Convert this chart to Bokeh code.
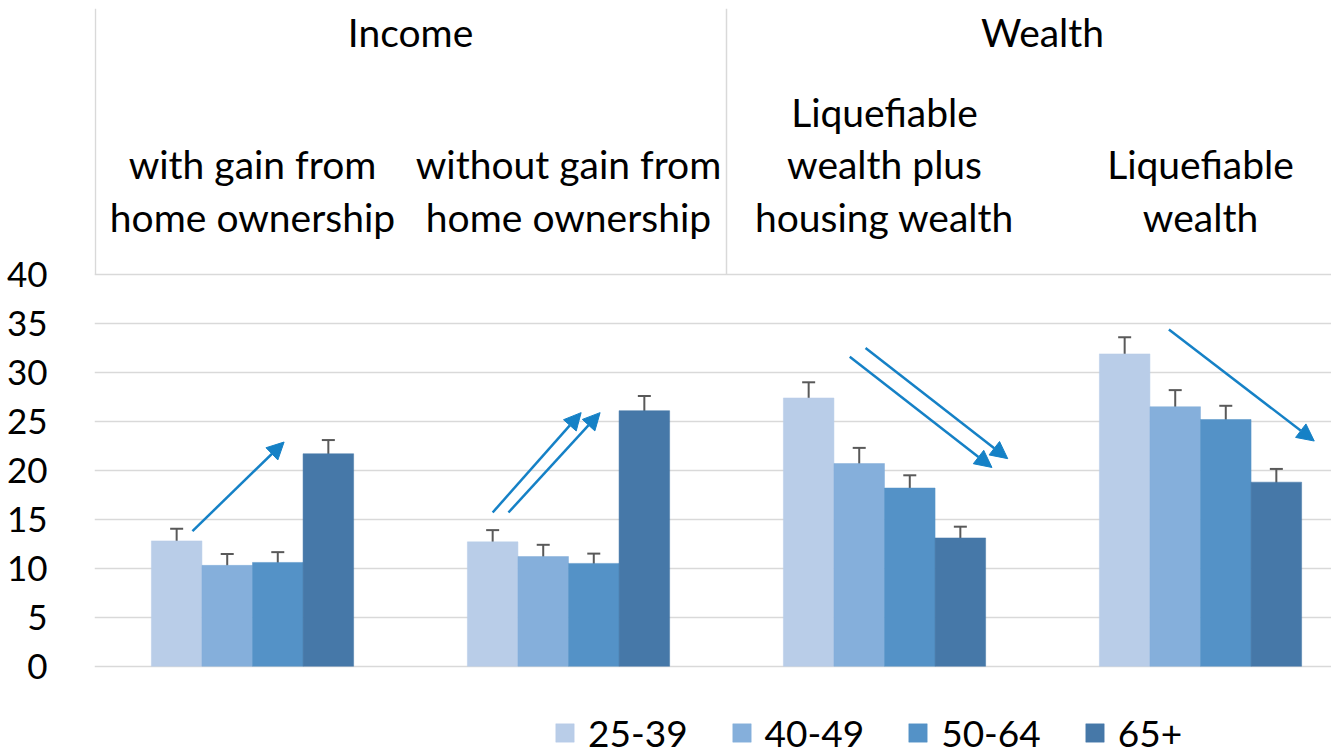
from bokeh.plotting import figure
from bokeh.models import (Range1d, FixedTicker, ColumnDataSource, Whisker, TeeHead,
                          Arrow, NormalHead)
from bokeh.core.properties import value
from bokeh.embed import file_html
from bokeh.resources import INLINE

# ---------------- data ----------------
group_names = ["Income", "Wealth"]
group_spans = [(0, 2), (2, 4)]          # category index ranges covered by each group
categories = [
    ["with gain from", "home ownership"],
    ["without gain from", "home ownership"],
    ["Liquefiable", "wealth plus", "housing wealth"],
    ["Liquefiable", "wealth"],
]
age_groups = ["25-39", "40-49", "50-64", "65+"]
colors = ["#B9CDE8", "#85AFDB", "#5492C7", "#4678A8"]

v_25_39 = [12.8, 12.7, 27.4, 31.9]
v_40_49 = [10.3, 11.2, 20.7, 26.5]
v_50_64 = [10.6, 10.5, 18.2, 25.2]
v_65p = [21.7, 26.1, 13.1, 18.8]

e_25_39 = [1.25, 1.2, 1.6, 1.7]
e_40_49 = [1.15, 1.2, 1.6, 1.7]
e_50_64 = [1.05, 1.0, 1.3, 1.4]
e_65p = [1.4, 1.5, 1.15, 1.35]

y_ticks = [0, 5, 10, 15, 20, 25, 30, 35, 40]

# trend arrows (category units, value units)
arrow_x0 = [0.31, 1.26, 1.31, 2.39, 2.44, 3.40]
arrow_y0 = [13.8, 15.7, 15.7, 31.6, 32.5, 34.4]
arrow_x1 = [0.60, 1.54, 1.60, 2.84, 2.89, 3.86]
arrow_y1 = [22.9, 25.9, 25.9, 20.3, 21.2, 23.0]

series_vals = [v_25_39, v_40_49, v_50_64, v_65p]
series_errs = [e_25_39, e_40_49, e_50_64, e_65p]

# ---------------- layout ----------------
FONT = "Lato"
FIG_W, FIG_H = 1331, 756
FRAME_LEFT = 94
ZERO_Y = 665.7      # px from top of figure where value 0 sits
PX = 9.79           # px per value unit
CAT_W = 316.0       # px per category
BAR_W = 0.16
TEXT_SHIFT = 15     # compensation for alphabetic-baseline placement

x_range = Range1d(0, (FIG_W - FRAME_LEFT) / CAT_W)
y_top = ZERO_Y / PX
y_range = Range1d(-(FIG_H - ZERO_Y) / PX, y_top)

p = figure(width=FIG_W, height=FIG_H, x_range=x_range, y_range=y_range,
           output_backend="svg", toolbar_location=None, x_axis_location=None,
           min_border_left=FRAME_LEFT, min_border_right=0, min_border_top=0,
           min_border_bottom=0)
p.outline_line_color = None
p.background_fill_color = "white"
p.border_fill_color = "white"

ticker = FixedTicker(ticks=y_ticks)
p.yaxis.ticker = ticker
p.ygrid.ticker = ticker
p.xgrid.visible = False
p.ygrid.grid_line_color = "#D9D9D9"
p.ygrid.grid_line_width = 1.5
p.yaxis.axis_line_color = None
p.yaxis.major_tick_line_color = None
p.yaxis.minor_tick_line_color = None
p.yaxis.major_label_text_font = FONT
p.yaxis.major_label_text_font_size = "35px"
p.yaxis.major_label_text_color = "black"
p.yaxis.major_label_standoff = 41

# header dividers
p.segment(x0=[0.003, 2], y0=[40, 40], x1=[0.003, 2], y1=[(ZERO_Y - 8.3) / PX] * 2,
          line_color="#D9D9D9", line_width=1.5)

# bars + error bars
for k, (name, vals, errs, col) in enumerate(zip(age_groups, series_vals, series_errs, colors)):
    xs = [i + 0.5 + (k - 1.5) * BAR_W for i in range(len(vals))]
    p.vbar(x=xs, top=vals, width=BAR_W, fill_color=col, line_color=col,
           line_width=0.5, legend_label=name)
    src = ColumnDataSource(dict(base=xs,
                                upper=[v + e for v, e in zip(vals, errs)],
                                lower=[v - e for v, e in zip(vals, errs)]))
    w = Whisker(base="base", upper="upper", lower="lower", source=src,
                line_color="#595959", line_width=2,
                upper_head=TeeHead(size=13, line_color="#595959", line_width=2),
                lower_head=TeeHead(size=13, line_color="#595959", line_width=2))
    p.add_layout(w)

# arrows
asrc = ColumnDataSource(dict(x0=arrow_x0, y0=arrow_y0, x1=arrow_x1, y1=arrow_y1))
p.add_layout(Arrow(x_start="x0", y_start="y0", x_end="x1", y_end="y1", source=asrc,
                   line_color="#1581C6", line_width=2.5,
                   end=NormalHead(size=17, fill_color="#1581C6", line_color="#1581C6",
                                  line_width=1)))

# header texts
def yv(px_from_top):
    return (ZERO_Y - (px_from_top - TEXT_SHIFT)) / PX

GROUP_BASELINE = 46.5
LINE_BASELINES = [126.7, 178.5, 231.0]   # bottom-aligned lines

gx = [(a + b) / 2 for a, b in group_spans]
p.text(x=gx, y=[yv(GROUP_BASELINE)] * len(gx), text=group_names,
       text_align="center", text_baseline="alphabetic", text_font=value(FONT),
       text_font_size="39px", text_color="black")

tx, ty, tt = [], [], []
for i, lines in enumerate(categories):
    n = len(lines)
    for j, line in enumerate(lines):
        tx.append(i + 0.5)
        ty.append(yv(LINE_BASELINES[3 - n + j]))
        tt.append(line)
p.text(x=tx, y=ty, text=tt, text_align="center", text_baseline="alphabetic",
       text_font=value(FONT), text_font_size="39px", text_color="black")

# legend
lg = p.legend[0]
lg.orientation = "horizontal"
lg.location = (459, 1)
lg.glyph_width = 23
lg.glyph_height = 23
lg.label_standoff = 12
lg.spacing = 42
lg.padding = 0
lg.margin = 0
lg.border_line_color = None
lg.background_fill_alpha = 0
lg.label_text_font = FONT
lg.label_text_font_size = "37px"
lg.label_text_color = "black"

open("out.html", "w").write(file_html(p, INLINE))
